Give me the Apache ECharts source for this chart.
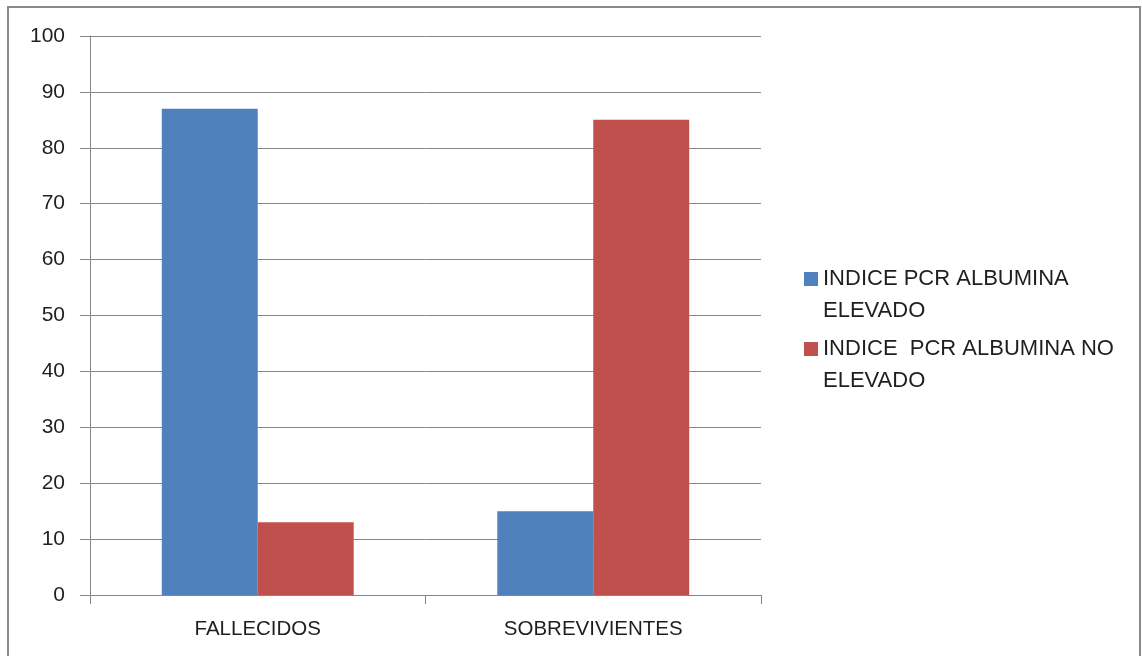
<!DOCTYPE html>
<html>
<head>
<meta charset="utf-8">
<script src="https://cdn.jsdelivr.net/npm/echarts@6/dist/echarts.min.js"></script>
<style>
  html, body { margin: 0; padding: 0; background: #fff; }
  #chart { width: 1142px; height: 656px; }
</style>
</head>
<body>
<div id="chart"></div>
<script>
// Categories, series and axis range
const categories = ['FALLECIDOS', 'SOBREVIVIENTES'];
const seriesNames = ['INDICE PCR ALBUMINA\nELEVADO', 'INDICE  PCR ALBUMINA NO\nELEVADO'];
const elevado = [87, 15];
const noElevado = [13, 85];
const yMin = 0, yMax = 100, yStep = 10;

const FONT = '"Liberation Sans", Arial, sans-serif';
const GRID_COLOR = '#868686';
const TEXT_COLOR = '#1f1f1f';

const chart = echarts.init(document.getElementById('chart'), null, { renderer: 'canvas' });

chart.setOption({
  backgroundColor: '#ffffff',
  animation: false,
  textStyle: { fontFamily: FONT },
  graphic: [{
    type: 'rect',
    shape: { x: 8, y: 7, width: 1132, height: 670 },
    style: { fill: 'none', stroke: '#8a8a8a', lineWidth: 2 },
    silent: true
  }],
  grid: { left: 90, top: 36, right: 381, bottom: 61, containLabel: false },
  legend: {
    orient: 'vertical',
    left: 804,
    top: 231,
    padding: 0,
    itemWidth: 14,
    itemHeight: 14,
    itemGap: -26,
    icon: 'rect',
    // a leading empty line keeps the swatch level with the first text line
    formatter: name => '\n' + name,
    textStyle: {
      fontFamily: FONT,
      fontSize: 22,
      color: TEXT_COLOR,
      lineHeight: 32
    },
    data: seriesNames
  },
  xAxis: {
    type: 'category',
    data: categories,
    axisLine: { lineStyle: { color: GRID_COLOR, width: 1 } },
    axisTick: { show: true, length: 9, alignWithLabel: false, lineStyle: { color: GRID_COLOR } },
    axisLabel: { margin: 24, fontSize: 20.5, color: TEXT_COLOR, fontFamily: FONT }
  },
  yAxis: {
    type: 'value',
    min: yMin,
    max: yMax,
    interval: yStep,
    axisLine: { show: true, lineStyle: { color: GRID_COLOR, width: 1 } },
    axisTick: { show: true, length: 10, inside: false, lineStyle: { color: GRID_COLOR } },
    splitLine: { show: true, lineStyle: { color: GRID_COLOR, width: 1 } },
    axisLabel: { margin: 25, fontSize: 21, color: TEXT_COLOR, fontFamily: FONT }
  },
  series: [
    {
      name: seriesNames[0],
      type: 'bar',
      data: elevado,
      barGap: '0%',
      barCategoryGap: '42.8%',
      itemStyle: { color: '#4F81BD' }
    },
    {
      name: seriesNames[1],
      type: 'bar',
      data: noElevado,
      barGap: '0%',
      barCategoryGap: '42.8%',
      itemStyle: { color: '#C0504D' }
    }
  ]
});
</script>
</body>
</html>
